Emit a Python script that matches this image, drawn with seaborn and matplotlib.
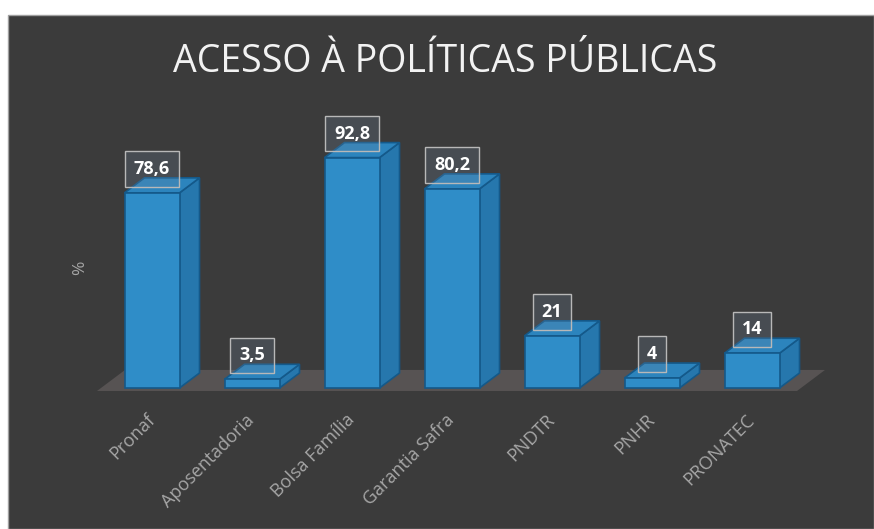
import matplotlib
matplotlib.use("Agg")
import matplotlib.pyplot as plt
import seaborn as sns
from matplotlib.patches import Polygon, Rectangle

categories = ["Pronaf", "Aposentadoria", "Bolsa Família", "Garantia Safra", "PNDTR", "PNHR", "PRONATEC"]
values = [78.6, 3.5, 92.8, 80.2, 21, 4, 14]
value_labels = ["78,6", "3,5", "92,8", "80,2", "21", "4", "14"]
title = "ACESSO À POLÍTICAS PÚBLICAS"
ylabel = "%"

sns.set_theme(style="white")
plt.rcParams['font.family'] = ['Open Sans', 'DejaVu Sans']

W, H = 874, 529
fig = plt.figure(figsize=(W / 100, H / 100), dpi=100)
fig.patch.set_facecolor("white")

# dark panel
panel = Rectangle((8 / W, 0), 1 - 8 / W, 1 - 15 / H, transform=fig.transFigure,
                  facecolor="#3b3b3b", edgecolor="#a0a0a0", lw=1.0, zorder=-10)
fig.patches.append(panel)

ax = fig.add_axes([102 / W, (H - 388) / H, 750 / W, 288 / H])
ax.set_facecolor("none")
ax.set_zorder(1)
for s in ax.spines.values():
    s.set_visible(False)

front = "#2f8dc8"
side = "#2677ad"
top = "#2c84bd"
edge = "#14598a"

sns.barplot(x=categories, y=values, color=front, width=0.55, saturation=1,
            edgecolor=edge, linewidth=1.2, ax=ax, zorder=3)
ax.set_xlim(-0.5, 7.0)
ax.set_ylim(0, 116)

# depth offsets in data units (20 px right, 15 px up)
dx = 0.20
dy = 15 / 2.48

# floor
floor = Polygon([(-0.55, -1.2), (6.45, -1.2), (6.73, -1.2 + 21 / 2.48), (-0.27, -1.2 + 21 / 2.48)],
                closed=True, facecolor="#575353", edgecolor="none", zorder=1, clip_on=False)
ax.add_patch(floor)

for p, lab in zip(ax.patches[:len(values)], value_labels):
    x0 = p.get_x()
    w = p.get_width()
    h = p.get_height()
    x1 = x0 + w
    sidep = Polygon([(x1, 0), (x1 + dx, dy), (x1 + dx, h + dy), (x1, h)], closed=True,
                    facecolor=side, edgecolor=edge, lw=1.2, zorder=2.5, clip_on=False)
    topp = Polygon([(x0, h), (x1, h), (x1 + dx, h + dy), (x0 + dx, h + dy)], closed=True,
                   facecolor=top, edgecolor=edge, lw=1.2, zorder=2.5, clip_on=False)
    ax.add_patch(sidep)
    ax.add_patch(topp)
    p.set_clip_on(False)
    ax.annotate(lab, (x0 + w / 2, h), xytext=(0, 24), textcoords="offset pixels",
                ha="center", va="center", color="white", fontsize=13, fontweight="bold",
                bbox=dict(boxstyle="square,pad=0.48", facecolor=(0.45, 0.55, 0.65, 0.22),
                          edgecolor="#b8b8b8", lw=1.0), zorder=5, annotation_clip=False)

ax.set_yticks([])
ax.tick_params(axis="x", length=0, pad=21, colors="#a6a6a6", labelsize=13)
for t in ax.get_xticklabels():
    t.set_rotation(45)
    t.set_ha("right")
    t.set_va("center")
    t.set_rotation_mode("anchor")
    t.set_color("#a6a6a6")
ax.set_xlabel("")

fig.text(80 / W, 1 - 268 / H, ylabel, rotation=90, color="#a6a6a6", fontsize=12.5,
         ha="center", va="center")
fig.text(445 / W, 1 - 62 / H, title, color="#f2f2f2", fontsize=27, ha="center", va="center")

fig.savefig("out.png", dpi=100, facecolor=fig.get_facecolor())
